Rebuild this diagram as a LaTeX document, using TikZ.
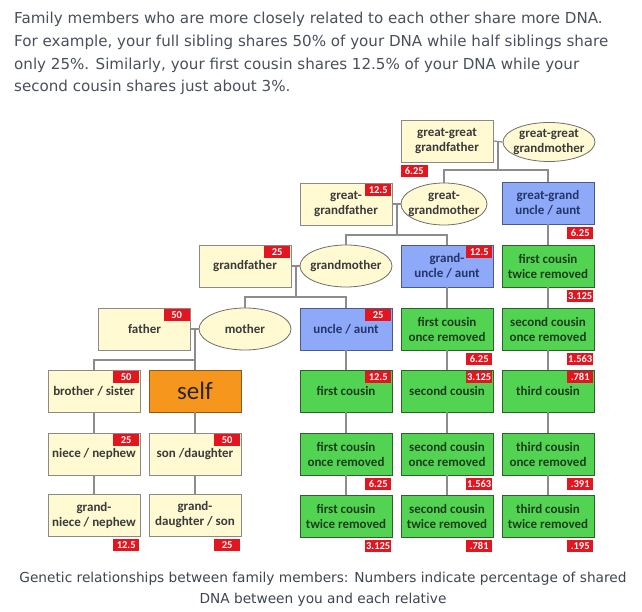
\documentclass[tikz,border=0pt]{standalone}
\usepackage{fontspec}
\setmainfont{DejaVu Sans}
\newfontfamily\boxfont{Carlito}
\usetikzlibrary{shapes.geometric}
\definecolor{yfill}{HTML}{FFFAD2}
\definecolor{ydraw}{HTML}{8A8A8A}
\definecolor{ytext}{HTML}{3A3A3A}
\definecolor{bfill}{HTML}{8DA9F7}
\definecolor{bdraw}{HTML}{4A5A8A}
\definecolor{btext}{HTML}{24356A}
\definecolor{gfill}{HTML}{52D452}
\definecolor{gdraw}{HTML}{2F5F2F}
\definecolor{gtext}{HTML}{1D3D1D}
\definecolor{ofill}{HTML}{F7961D}
\definecolor{odraw}{HTML}{8A5A20}
\definecolor{labred}{HTML}{E3151F}
\definecolor{linkgray}{HTML}{8C8C8C}
\definecolor{paratext}{HTML}{4A505C}
\definecolor{captext}{HTML}{3F4650}
\begin{document}
\begin{tikzpicture}[x=1pt,y=-1pt,
  box/.style={rectangle, minimum width=92pt, minimum height=42pt, inner sep=1pt,
    align=center, font=\boxfont\bfseries\fontsize{13}{15}\selectfont, line width=0.8pt},
  ybox/.style={box, fill=yfill, draw=ydraw, text=ytext},
  bbox/.style={box, fill=bfill, draw=bdraw, text=btext},
  gbox/.style={box, fill=gfill, draw=gdraw, text=gtext},
  obox/.style={box, fill=ofill, draw=odraw, text=black!85, font=\boxfont\fontsize{25}{28}\selectfont},
  ell/.style={ellipse, fill=yfill, draw=ydraw!80!black, text=ytext, line width=0.8pt,
    inner xsep=-4pt, inner ysep=-4pt,
    minimum width=92pt, minimum height=40pt, align=center,
    font=\boxfont\bfseries\fontsize{13}{15}\selectfont},
  lab/.style={rectangle, fill=labred, text=white, inner sep=0pt, minimum width=26pt,
    minimum height=12pt, font=\boxfont\bfseries\fontsize{10.5}{11}\selectfont},
  link/.style={draw=linkgray, line width=1.2pt},
  para/.style={anchor=base west, inner sep=0pt, text=paratext, font=\fontsize{15.1}{18}\selectfont},
  captiontext/.style={anchor=base, inner sep=0pt, text=captext, font=\fontsize{13.7}{16}\selectfont}
]
\useasboundingbox (0,0) rectangle (642,612);
\fill[white] (0,0) rectangle (642,612);

% paragraph
\node[para] (p1) at (14,24) {Family members who are more closely related to each other share more DNA.};
\node[para] (p2) at (14,47) {For example, your full sibling shares 50\% of your DNA while half siblings share};
\node[para] (p3) at (14,69.5) {only 25\%. Similarly, your first cousin shares 12.5\% of your DNA while your};
\node[para] (p4) at (14,92) {second cousin shares just about 3\%.};

% row 0
\node[ybox] (ggf) at (447,141) {great-great\\grandfather};
\node[ell, minimum height=39pt] (ggm) at (549,142) {great-great\\grandmother};
% row 1
\node[ybox] (gf1) at (346,204) {great-\\grandfather};
\node[ell, inner xsep=-6pt, minimum width=86pt, minimum height=42pt] (gm1) at (444,204) {great-\\grandmother};
\node[bbox] (ggu) at (548,203) {great-grand\\uncle / aunt};
% row 2
\node[ybox] (gf) at (245,266) {grandfather};
\node[ell, minimum height=42pt] (gm) at (346,266) {grandmother};
\node[bbox] (gu) at (447,266) {grand-\\uncle / aunt};
\node[gbox] (fc2a) at (548,266) {first cousin\\twice removed};
% row 3
\node[ybox] (fa) at (144.5,329) {father};
\node[ell, minimum height=42pt] (mo) at (245,329) {mother};
\node[bbox] (ua) at (346,329) {uncle / aunt};
\node[gbox] (fc1a) at (447,329) {first cousin\\once removed};
\node[gbox] (sc1a) at (548,329) {second cousin\\once removed};
% row 4
\node[ybox] (bs) at (94,391) {brother / sister};
\node[obox] (self) at (195,391) {self};
\node[gbox] (fc) at (346,391) {first cousin};
\node[gbox] (sc) at (447,391) {second cousin};
\node[gbox] (tc) at (548,391) {third cousin};
% row 5
\node[ybox] (nn) at (94,454) {niece / nephew};
\node[ybox] (sd) at (195,454) {son /daughter};
\node[gbox] (fc1b) at (346,454) {first cousin\\once removed};
\node[gbox] (sc1b) at (447,454) {second cousin\\once removed};
\node[gbox] (tc1b) at (548,454) {third cousin\\once removed};
% row 6
\node[ybox] (gnn) at (94,515) {grand-\\niece / nephew};
\node[ybox] (gds) at (195,515) {grand-\\daughter / son};
\node[gbox] (fc2b) at (346,516) {first cousin\\twice removed};
\node[gbox] (sc2b) at (447,516) {second cousin\\twice removed};
\node[gbox] (tc2b) at (548,516) {third cousin\\twice removed};

% labels inside top right
\foreach \n/\t in {gf1/12.5, gf/25, gu/12.5, fa/50, ua/25, bs/50, fc/12.5, sc/3.125, tc/.781, nn/25, sd/50}
  \node[lab, anchor=north east] (lab-\n) at ([xshift=-1pt,yshift=-1pt]\n.north east) {\t};
% labels below bottom right
\foreach \n/\t in {ggu/6.25, fc2a/3.125, fc1a/6.25, sc1a/1.563, fc1b/6.25, sc1b/1.563, tc1b/.391, gnn/12.5, gds/25, fc2b/3.125, sc2b/.781, tc2b/.195}
  \node[lab, anchor=north east] (lab-\n) at ([xshift=-1pt,yshift=-2pt]\n.south east) {\t};
% label below left
\node[lab, anchor=north west, minimum width=27pt] (lab-ggf) at ([xshift=0pt,yshift=-2pt]ggf.south west) {6.25};

% junctions
\coordinate (j0) at (498,141); \coordinate (k0) at (498,170);
\coordinate (j1) at (397,204); \coordinate (k1) at (397,235);
\coordinate (j2) at (296,266); \coordinate (k2) at (296,297);
\coordinate (j3) at (195,329); \coordinate (k3) at (195,360);

% couple links
\draw[link] (ggf.east) -- (ggm.west);
\draw[link] (gf1.east) -- (gm1.west);
\draw[link] (gf.east) -- (gm.west);
\draw[link] (fa.east) -- (mo.west);
\draw[link] (j0) -- (k0);
\draw[link] (j1) -- (k1);
\draw[link] (j2) -- (k2);
\draw[link] (j3) -- (k3);
% child bars
\draw[link] (gm1.north) |- (k0) -| (ggu.north);
\draw[link] (gm.north) |- (k1) -| (gu.north);
\draw[link] (mo.north) |- (k2) -| (ua.north);
\draw[link] (bs.north) |- (k3) -- (self.north);
% columns
\draw[link] (bs.south) -- (nn.north);
\draw[link] (nn.south) -- (gnn.north);
\draw[link] (self.south) -- (sd.north);
\draw[link] (sd.south) -- (gds.north);
\draw[link] (ua.south) -- (fc.north);
\draw[link] (fc.south) -- (fc1b.north);
\draw[link] (fc1b.south) -- (fc2b.north);
\draw[link] (gu.south) -- (fc1a.north);
\draw[link] (fc1a.south) -- (sc.north);
\draw[link] (sc.south) -- (sc1b.north);
\draw[link] (sc1b.south) -- (sc2b.north);
\draw[link] (ggu.south) -- (fc2a.north);
\draw[link] (fc2a.south) -- (sc1a.north);
\draw[link] (sc1a.south) -- (tc.north);
\draw[link] (tc.south) -- (tc1b.north);
\draw[link] (tc1b.south) -- (tc2b.north);

% caption
\node[captiontext] (c1) at (323,582) {Genetic relationships between family members: Numbers indicate percentage of shared};
\node[captiontext] (c2) at (323,603) {DNA between you and each relative};
\end{tikzpicture}
\end{document}
